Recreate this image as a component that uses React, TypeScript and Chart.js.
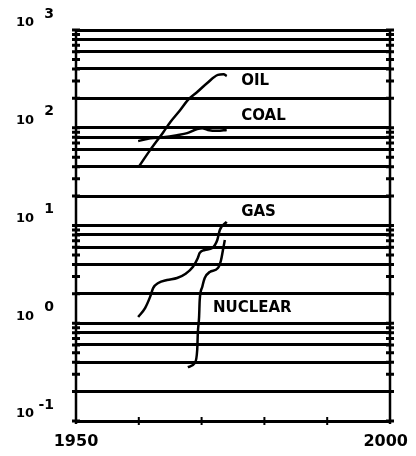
import { useEffect, useRef } from "react";
import { Chart, registerables } from "chart.js";

Chart.register(...registerables);

const FONT = '"DejaVu Sans", "Liberation Sans", sans-serif';

// Series (year, value)
const oilYears = [1960, 1961.8, 1963.9, 1965, 1966.6, 1967.8, 1969.3, 1970.9, 1972.6, 1973.5, 1974];
const oilValues = [40, 59, 90, 114, 152, 192, 232, 287, 347, 352, 338];

const coalYears = [1959.9, 1961.8, 1963.9, 1966.1, 1967.7, 1969.3, 1970.1, 1971, 1972.5, 1974];
const coalValues = [73, 78, 80, 84, 88, 97, 99, 95, 93, 95];

const gasYears = [1959.9, 1961, 1961.8, 1962.3, 1963.1, 1964.5, 1966.1, 1967.4, 1968.6, 1969.4, 1969.7, 1970.5, 1971.7, 1972.5, 1972.9, 1974];
const gasValues = [1.16, 1.43, 1.86, 2.3, 2.58, 2.77, 2.9, 3.19, 3.76, 4.65, 5.24, 5.62, 5.89, 7.1, 9.0, 10.9];

const nuclearYears = [1967.8, 1968.9, 1969.3, 1969.4, 1969.6, 1969.7, 1970.1, 1970.5, 1971.3, 1972.6, 1973.1, 1973.4, 1973.7];
const nuclearValues = [0.356, 0.392, 0.532, 0.794, 1.16, 1.73, 2.35, 2.9, 3.35, 3.67, 4.44, 5.61, 7.1];

// Axes
const xMin = 1950;
const xMax = 2000;
const xLabelYears = [1950, 2000];
const xTickYears = [1960, 1970, 1980, 1990];
const yMin = 0.1;
const yMax = 1000;
const decadeExponents = [-1, 0, 1, 2, 3];
const minorMantissas = [1, 2, 3, 4, 5, 6, 7, 8, 9];
const gridMantissas = [1, 2, 4, 6, 8];

// Text annotations (data coordinates)
const labelTexts = ["OIL", "COAL", "GAS", "NUCLEAR"];
const labelYears = [1976.3, 1976.3, 1976.3, 1971.8];
const labelValues = [300, 132, 13.7, 1.43];

function allTickValues(): number[] {
  const out: number[] = [];
  for (const e of decadeExponents) {
    if (e === 3) {
      out.push(1000);
      continue;
    }
    for (const m of minorMantissas) out.push(+(m * Math.pow(10, e)).toPrecision(6));
  }
  return out;
}

function mantissa(v: number): number {
  const e = Math.floor(Math.log10(v) + 1e-9);
  return Math.round(v / Math.pow(10, e));
}

function toPoints(xs: number[], ys: number[]) {
  return xs.map((x, i) => ({ x, y: ys[i] }));
}

const decorPlugin = {
  id: "decor",
  afterDraw(chart: any) {
    const { ctx, chartArea, scales } = chart;
    const x = scales.x;
    const y = scales.y;
    ctx.save();
    ctx.strokeStyle = "#000";
    ctx.fillStyle = "#000";
    ctx.lineCap = "butt";

    // vertical frame lines
    ctx.lineWidth = 2.5;
    ctx.beginPath();
    ctx.moveTo(chartArea.left, chartArea.top - 1);
    ctx.lineTo(chartArea.left, chartArea.bottom + 3);
    ctx.moveTo(chartArea.right, chartArea.top - 1);
    ctx.lineTo(chartArea.right, chartArea.bottom + 3);
    ctx.stroke();

    // minor tick marks on both vertical axes
    ctx.lineWidth = 3;
    ctx.beginPath();
    for (const v of allTickValues()) {
      const py = y.getPixelForValue(v);
      ctx.moveTo(chartArea.left - 4, py);
      ctx.lineTo(chartArea.left + 4, py);
      ctx.moveTo(chartArea.right - 4, py);
      ctx.lineTo(chartArea.right + 4, py);
    }
    ctx.stroke();

    // x ticks on bottom axis
    ctx.lineWidth = 2;
    ctx.beginPath();
    for (const yr of xTickYears) {
      const px = x.getPixelForValue(yr);
      ctx.moveTo(px, chartArea.bottom - 4);
      ctx.lineTo(px, chartArea.bottom + 4);
    }
    ctx.stroke();

    // y labels 10^e
    ctx.textBaseline = "middle";
    for (const e of decadeExponents) {
      const py = y.getPixelForValue(Math.pow(10, e));
      ctx.font = `bold 13px ${FONT}`;
      ctx.textAlign = "left";
      ctx.fillText("10", 16, py - 7);
      ctx.font = `bold 14px ${FONT}`;
      ctx.textAlign = "right";
      ctx.fillText(String(e), 54, py - 16);
    }

    // x labels
    ctx.font = `bold 16px ${FONT}`;
    ctx.textAlign = "center";
    const cw = chart.width;
    for (const yr of xLabelYears) {
      const txt = String(yr);
      const half = ctx.measureText(txt).width / 2;
      const px = Math.min(x.getPixelForValue(yr), cw - half - 8);
      ctx.fillText(txt, px, chartArea.bottom + 21);
    }

    // annotations
    ctx.font = `bold 15px ${FONT}`;
    ctx.textAlign = "left";
    labelTexts.forEach((t, i) => {
      ctx.fillText(t, x.getPixelForValue(labelYears[i]), y.getPixelForValue(labelValues[i]));
    });
    ctx.restore();
  },
};

export default function App() {
  const ref = useRef<HTMLCanvasElement>(null);
  useEffect(() => {
    document.body.style.margin = "0";
    const canvas = ref.current;
    if (!canvas) return;
    const lineStyle = {
      showLine: true,
      borderColor: "#000",
      backgroundColor: "#000",
      borderWidth: 2.5,
      pointRadius: 0,
      cubicInterpolationMode: "monotone" as const,
      fill: false,
    };
    const chart = new Chart(canvas, {
      type: "scatter",
      data: {
        datasets: [
          { label: "OIL", data: toPoints(oilYears, oilValues), ...lineStyle },
          { label: "COAL", data: toPoints(coalYears, coalValues), ...lineStyle },
          { label: "GAS", data: toPoints(gasYears, gasValues), ...lineStyle },
          { label: "NUCLEAR", data: toPoints(nuclearYears, nuclearValues), ...lineStyle },
        ],
      },
      options: {
        responsive: false,
        animation: false,
        devicePixelRatio: 1,
        layout: { padding: { left: 76, right: 26, top: 30, bottom: 35 } },
        plugins: { legend: { display: false }, tooltip: { enabled: false } },
        scales: {
          x: {
            type: "linear",
            min: xMin,
            max: xMax,
            display: false,
          },
          y: {
            type: "logarithmic",
            min: yMin,
            max: yMax,
            afterBuildTicks: (scale: any) => {
              scale.ticks = allTickValues().map((v) => ({ value: v }));
            },
            ticks: { display: false },
            border: { display: false },
            grid: {
              drawTicks: false,
              lineWidth: 3,
              color: (c: any) =>
                c.tick && gridMantissas.includes(mantissa(c.tick.value)) ? "#000" : "rgba(0,0,0,0)",
            },
          },
        },
      },
      plugins: [decorPlugin],
    });
    return () => chart.destroy();
  }, []);
  return <canvas ref={ref} width={416} height={456} style={{ display: "block" }} />;
}
